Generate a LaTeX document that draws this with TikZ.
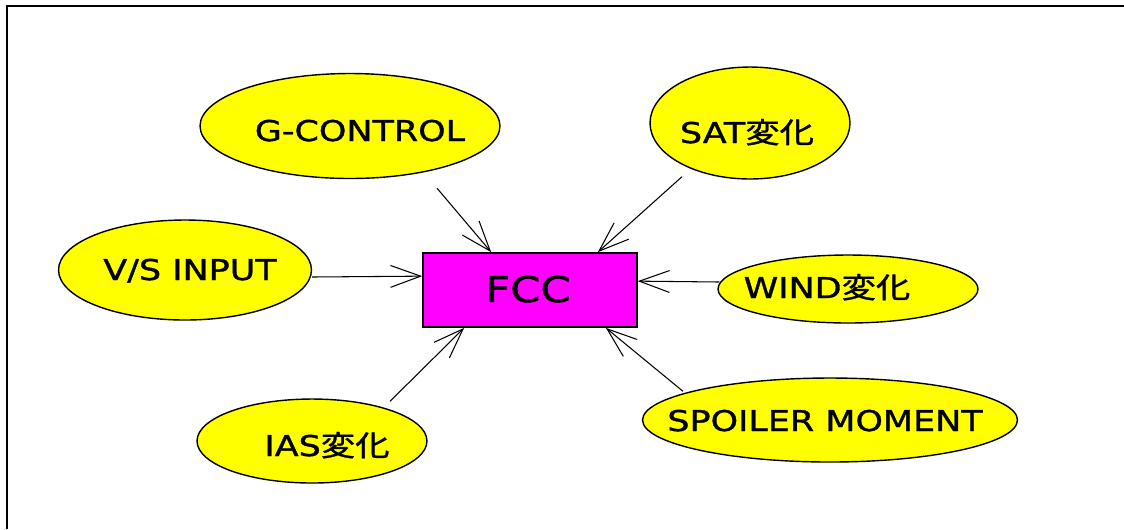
\documentclass[tikz,border=0pt]{standalone}
\usepackage{fontspec}
\setmainfont{DejaVu Sans}[FakeStretch=1.22,FakeBold=1.2]
\newfontfamily\jp{Noto Sans CJK JP}[FakeStretch=1.2,FakeBold=1.2]
\usetikzlibrary{arrows.meta,shapes.geometric}
\definecolor{ovalfill}{RGB}{255,255,0}
\definecolor{unitfill}{RGB}{255,0,255}

\begin{document}
\begin{tikzpicture}[x=0.02cm,y=-0.02cm,
    oval/.style={ellipse,draw,fill=ovalfill,line width=0.8pt,inner sep=0pt},
    tag/.style={anchor=base,inner sep=0pt,font=\fontsize{16.3}{18}\selectfont},
    feed/.style={line width=0.6pt,-{Straight Barb[angle=40:0.64cm]}}]
  \useasboundingbox (0,0) rectangle (1124,529);
  \draw[line width=1.5pt] (7,529) -- (7,6) -- (1124,6);

  % the unit in the middle
  \node[draw,fill=unitfill,line width=1pt,minimum width=4.28cm,minimum height=1.48cm] (fcc) at (530,290) {};
  \node[tag,font=\fontsize{20.2}{24}\selectfont] (fcc-t) at (528,302) {FCC};

  % inputs round it
  \node[oval,minimum width=6cm,minimum height=2.1cm] (gctrl) at (350,126) {};
  \node[tag] (gctrl-t) at (360,141) {G-CONTROL};
  \node[oval,minimum width=4cm,minimum height=2.24cm] (sat) at (750,123) {};
  \node[tag] (sat-t) at (747,143) {SAT{\jp 変化}};
  \node[oval,minimum width=5.06cm,minimum height=2cm] (vs) at (185,270) {};
  \node[tag] (vs-t) at (190,280) {V/S INPUT};
  \node[oval,minimum width=5.2cm,minimum height=1.36cm] (wind) at (848,289) {};
  \node[tag] (wind-t) at (827,298) {WIND{\jp 変化}};
  \node[oval,minimum width=4.6cm,minimum height=1.68cm] (ias) at (312,441) {};
  \node[tag] (ias-t) at (327,456) {IAS{\jp 変化}};
  \node[oval,minimum width=7.5cm,minimum height=1.68cm] (spoiler) at (830,420) {};
  \node[tag] (spoiler-t) at (825,431) {SPOILER MOMENT};

  \begin{scope}[feed]
    \draw ([shift={(87,9)}]gctrl.south) -- ([shift={(69,0)}]fcc.north west);
    \draw ([shift={(-68,-3)}]sat.south) -- ([shift={(-40,0)}]fcc.north east);
    \draw ([shift={(0,7)}]vs.east) -- ([shift={(0,24)}]fcc.north west);
    \draw ([shift={(2,-7)}]wind.west) -- ([shift={(0,29)}]fcc.north east);
    \draw ([shift={(78,3)}]ias.north) -- ([shift={(42,0)}]fcc.south west);
    \draw ([shift={(-147,14)}]spoiler.north) -- ([shift={(-32,0)}]fcc.south east);
  \end{scope}
\end{tikzpicture}
\end{document}
